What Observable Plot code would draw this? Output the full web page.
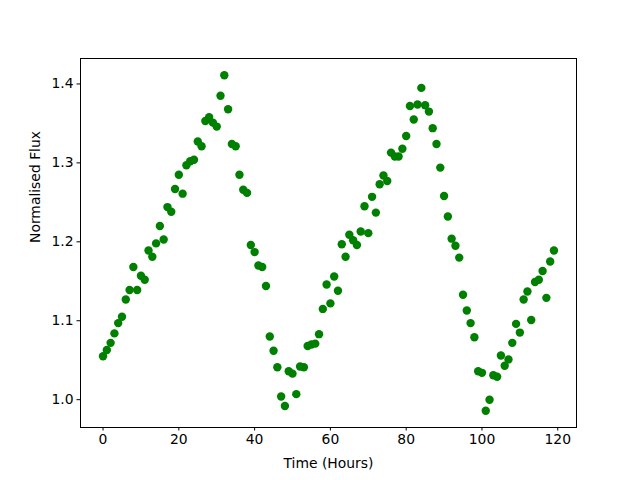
<!DOCTYPE html>
<html>
<head>
<meta charset="utf-8">
<script src="https://cdn.jsdelivr.net/npm/d3@7"></script>
<script src="https://cdn.jsdelivr.net/npm/@observablehq/plot@0.6"></script>
<style>
  html, body { margin: 0; padding: 0; background: #fff; }
</style>
</head>
<body>
<div id="chart"></div>
<script>
const hours = d3.range(0, 120);
const flux = [
  1.055, 1.063, 1.072, 1.084, 1.097, 1.105, 1.127, 1.139, 1.168, 1.139,
  1.157, 1.152, 1.189, 1.181, 1.198, 1.220, 1.203, 1.244, 1.238, 1.267,
  1.285, 1.261, 1.297, 1.302, 1.304, 1.327, 1.321, 1.353, 1.358, 1.351,
  1.346, 1.385, 1.411, 1.368, 1.324, 1.321, 1.285, 1.266, 1.262, 1.196,
  1.187, 1.170, 1.168, 1.144, 1.080, 1.062, 1.041, 1.004, 0.992, 1.036,
  1.033, 1.007, 1.042, 1.041, 1.068, 1.070, 1.071, 1.083, 1.115, 1.146,
  1.122, 1.156, 1.138, 1.197, 1.181, 1.209, 1.202, 1.196, 1.213, 1.245,
  1.211, 1.257, 1.237, 1.273, 1.284, 1.277, 1.313, 1.308, 1.308, 1.318,
  1.334, 1.372, 1.355, 1.374, 1.395, 1.373, 1.365, 1.344, 1.324, 1.294,
  1.258, 1.232, 1.204, 1.195, 1.180, 1.133, 1.113, 1.097, 1.079, 1.036,
  1.034, 0.986, 1.000, 1.031, 1.029, 1.056, 1.043, 1.051, 1.072, 1.096,
  1.085, 1.127, 1.137, 1.101, 1.149, 1.152, 1.163, 1.129, 1.175, 1.189
];
const xTicks = [0, 20, 40, 60, 80, 100, 120];
const yTicks = [1.0, 1.1, 1.2, 1.3, 1.4];
const xLabel = "Time (Hours)";
const yLabel = "Normalised Flux";

const data = hours.map((h, i) => ({hour: h, flux: flux[i]}));

const xmin = d3.min(hours), xmax = d3.max(hours);
const ymin = d3.min(flux), ymax = d3.max(flux);
const xm = (xmax - xmin) * 0.05, ym = (ymax - ymin) * 0.05;

const chart = Plot.plot({
  width: 640,
  height: 480,
  marginLeft: 80,
  marginRight: 64,
  marginTop: 58,
  marginBottom: 53,
  style: {fontFamily: "DejaVu Sans", fontSize: "13.9px", background: "#fff", color: "#000"},
  x: {domain: [xmin - xm, xmax + xm]},
  y: {domain: [ymin - ym, ymax + ym]},
  marks: [
    Plot.dot(data, {x: "hour", y: "flux", r: 4.2, fill: "#008000", stroke: "none"}),
    Plot.frame({stroke: "#000", strokeWidth: 1}),
    Plot.axisX({ticks: xTicks, tickSize: 3.5, tickPadding: 3.5, tickFormat: d3.format("d"), label: null, stroke: "#000", fill: "#000"}),
    Plot.axisY({ticks: yTicks, tickSize: 3.5, tickPadding: 3.5, tickFormat: d3.format(".1f"), label: null, stroke: "#000", fill: "#000"}),
    Plot.text([xLabel], {frameAnchor: "bottom", dy: 36, lineAnchor: "middle", fill: "#000"}),
    Plot.text([yLabel], {frameAnchor: "left", dx: -45, rotate: -90, lineAnchor: "middle", fill: "#000"})
  ]
});
document.getElementById("chart").appendChild(chart);
</script>
</body>
</html>
